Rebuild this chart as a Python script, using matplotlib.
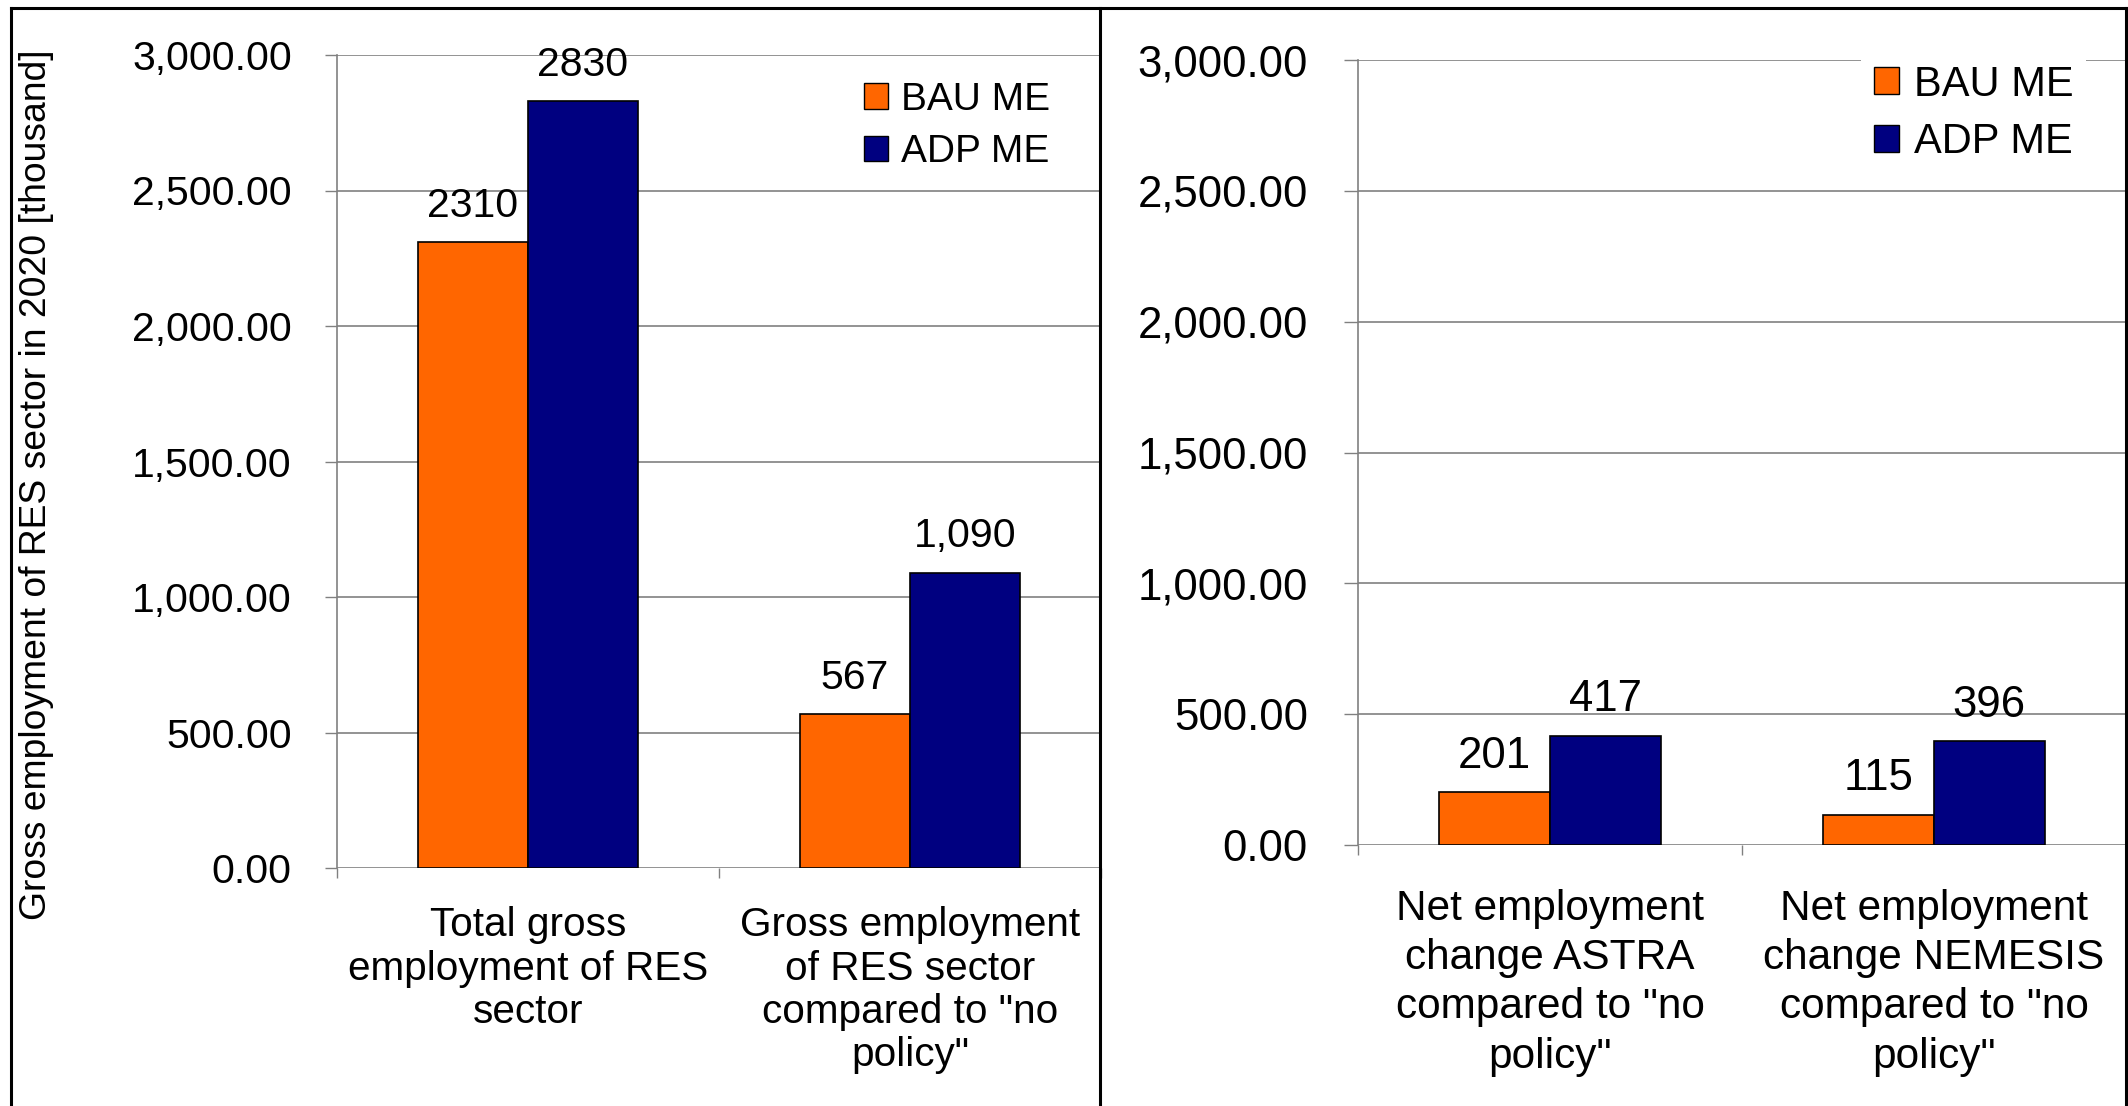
import matplotlib.pyplot as plt
from matplotlib.lines import Line2D
from matplotlib.ticker import FuncFormatter, FixedLocator

plt.rcParams['font.family'] = ['Liberation Sans', 'DejaVu Sans']

# Data
series = ['BAU ME', 'ADP ME']
colors = ['#FF6600', '#000080']

left_cats = ['Total gross\nemployment of RES\nsector',
             'Gross employment\nof RES sector\ncompared to "no\npolicy"']
left_bau = [2310, 567]
left_adp = [2830, 1090]
left_bau_lbl = ['2310', '567']
left_adp_lbl = ['2830', '1,090']

right_cats = ['Net employment\nchange ASTRA\ncompared to "no\npolicy"',
              'Net employment\nchange NEMESIS\ncompared to "no\npolicy"']
right_bau = [201, 115]
right_adp = [417, 396]
right_bau_lbl = ['201', '115']
right_adp_lbl = ['417', '396']

yticks = [0, 500, 1000, 1500, 2000, 2500, 3000]

W, H = 2128, 1106
fig = plt.figure(figsize=(W / 100, H / 100), dpi=100)


def px_rect(x0, y0, x1, y1):
    # pixel box (top-left origin) -> figure fraction rect
    return [x0 / W, (H - y1) / H, (x1 - x0) / W, (y1 - y0) / H]


def draw_panel(ax, cats, bau, adp, bau_lbl, adp_lbl, legend_anchor,
               fs_tick, fs_cat, fs_leg, cat_pad, cat_ls, ytick_len, ytick_pad,
               leg_space):
    bw = 0.288
    xs = list(range(len(cats)))
    b1 = ax.bar([x - bw / 2 for x in xs], bau, bw, color=colors[0],
                edgecolor='black', linewidth=1.2, label=series[0], zorder=3)
    b2 = ax.bar([x + bw / 2 for x in xs], adp, bw, color=colors[1],
                edgecolor='black', linewidth=1.2, label=series[1], zorder=3)
    for rects, lbls in ((b1, bau_lbl), (b2, adp_lbl)):
        for r, t in zip(rects, lbls):
            ax.annotate(t, (r.get_x() + r.get_width() / 2, r.get_height()),
                        xytext=(0, 26), textcoords='offset points',
                        ha='center', va='center', fontsize=fs_tick)
    ax.set_xlim(-0.5, len(cats) - 0.5)
    ax.set_ylim(0, 3000)
    ax.set_yticks(yticks)
    ax.yaxis.set_major_formatter(FuncFormatter(lambda v, p: f'{v:,.2f}'))
    ax.set_xticks(xs)
    ax.set_xticklabels(cats, fontsize=fs_cat, linespacing=cat_ls)
    ax.xaxis.set_minor_locator(FixedLocator([x + 0.5 for x in [-1] + xs]))
    ax.tick_params(axis='x', which='major', length=0, pad=cat_pad)
    ax.tick_params(axis='x', which='minor', length=7.5, width=1, color='#808080')
    ax.tick_params(axis='y', length=ytick_len, width=1, color='#808080',
                   labelsize=fs_tick, pad=ytick_pad)
    ax.grid(axis='y', color='#808080', linewidth=1.2)
    ax.set_axisbelow(True)
    for s in ('top', 'right', 'bottom'):
        ax.spines[s].set_visible(False)
    ax.spines['left'].set_color('#808080')
    ax.spines['left'].set_linewidth(1.2)
    leg = ax.legend(loc='upper left', bbox_to_anchor=legend_anchor,
                    bbox_transform=fig.transFigure, fontsize=fs_leg,
                    frameon=True, framealpha=1, facecolor='white',
                    edgecolor='none', fancybox=False, borderpad=0.3,
                    borderaxespad=0, handlelength=0.62, handleheight=0.62,
                    handletextpad=0.35, labelspacing=leg_space)
    for h in leg.legend_handles:
        h.set_edgecolor('black')
        h.set_linewidth(1)


ax1 = fig.add_axes(px_rect(337, 55, 1101, 868))
draw_panel(ax1, left_cats, left_bau, left_adp, left_bau_lbl, left_adp_lbl,
           (852 / W, (H - 70) / H),
           fs_tick=29.5, fs_cat=29.2, fs_leg=28, cat_pad=27.5, cat_ls=1.18,
           ytick_len=8.6, ytick_pad=24, leg_space=0.42)

ax2 = fig.add_axes(px_rect(1358, 60, 2126, 845))
draw_panel(ax2, right_cats, right_bau, right_adp, right_bau_lbl, right_adp_lbl,
           (1861 / W, (H - 52) / H),
           fs_tick=31.5, fs_cat=30.5, fs_leg=30, cat_pad=31.5, cat_ls=1.30,
           ytick_len=10, ytick_pad=26, leg_space=0.42)

fig.text(37 / W, (H - 485) / H,
         'Gross employment of RES sector in 2020 [thousand]',
         rotation=90, ha='center', va='center', fontsize=26.8)

# Panel frames
top = (H - 8) / H
for x in (11 / W, 1100 / W, 2126 / W):
    fig.add_artist(Line2D([x, x], [0, top], color='black', linewidth=2.2))
fig.add_artist(Line2D([11 / W, 2126 / W], [top, top], color='black', linewidth=2.2))

fig.savefig('out.png', dpi=100, facecolor='white')
